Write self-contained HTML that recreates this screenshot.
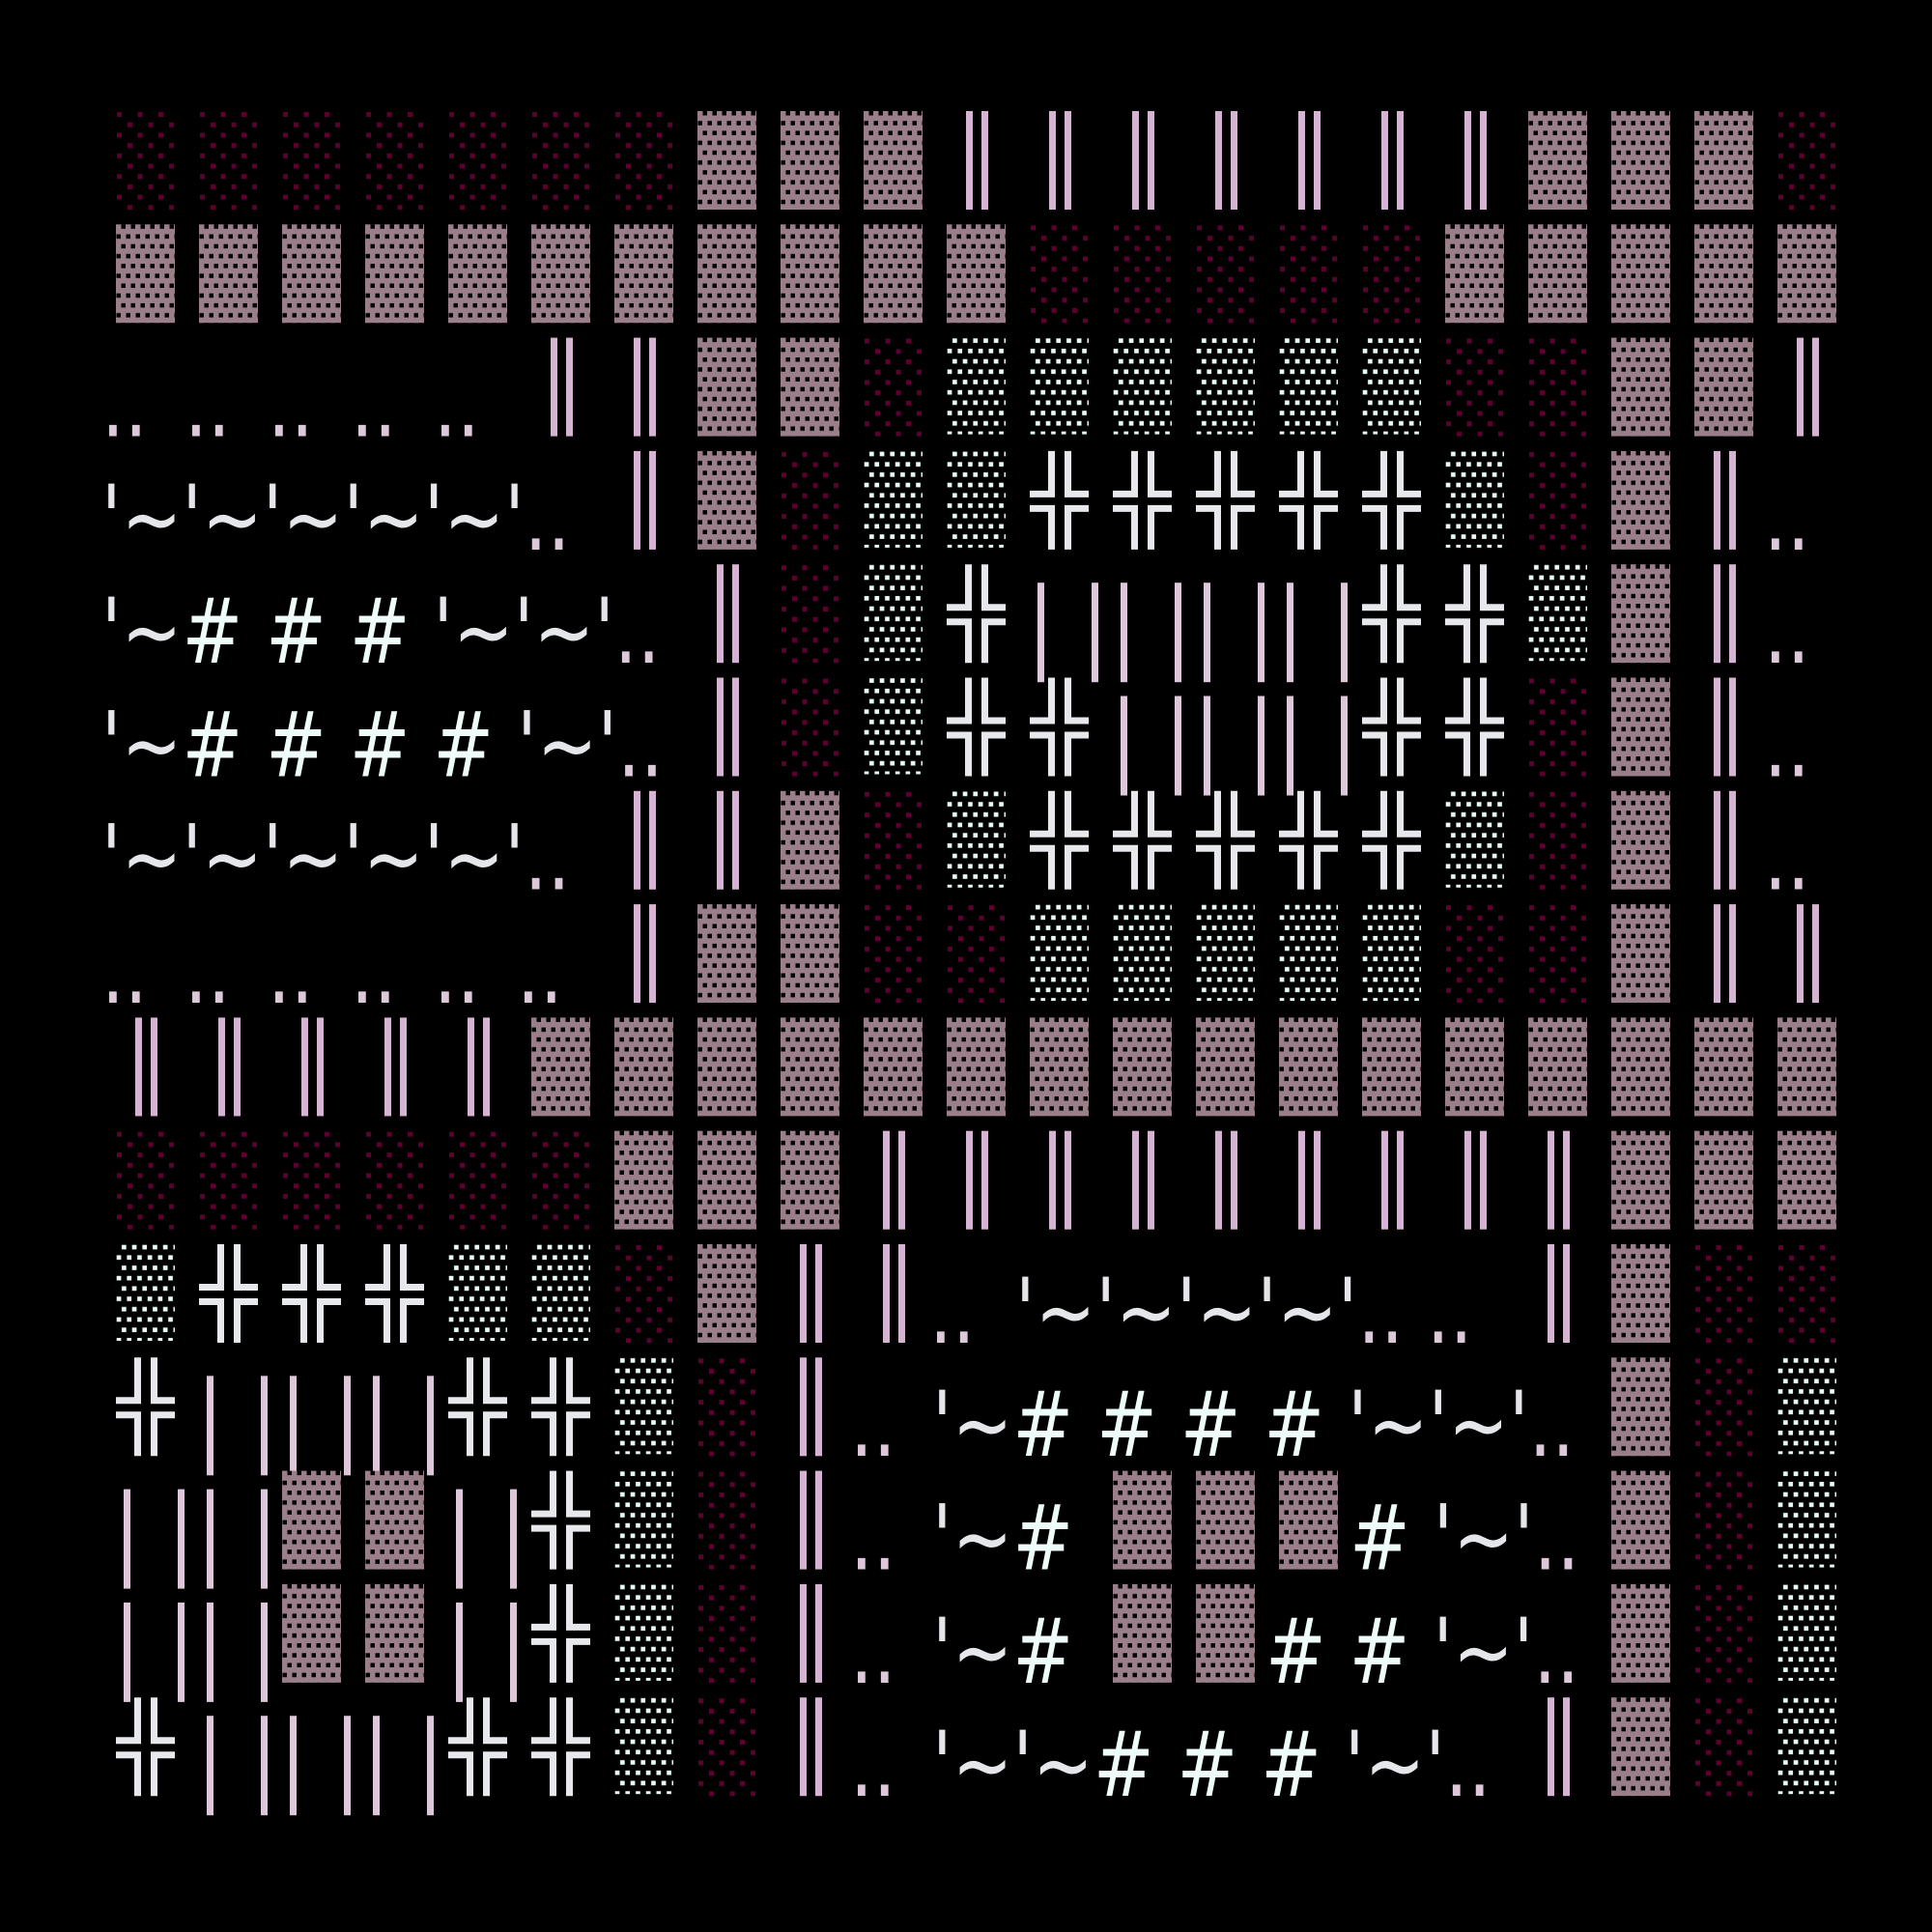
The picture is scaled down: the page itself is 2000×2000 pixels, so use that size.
<!DOCTYPE html>
<html><head><meta charset="utf-8"><style>
html,body{margin:0;padding:0;background:#000;}
svg{display:block;}
</style></head><body>
<svg width="2000" height="2000" viewBox="0 0 2000 2000" xmlns="http://www.w3.org/2000/svg">
<defs>
<pattern id="pp" width="10" height="20.4" patternUnits="userSpaceOnUse">
<rect width="10" height="20.4" fill="#9a7e8a"/>
<rect x="5.5" y="0" width="4.5" height="4.5" fill="#000"/>
<rect x="0.5" y="10.2" width="4.5" height="4.5" fill="#000"/>
</pattern>
<pattern id="pd" width="21.5" height="21.4" patternUnits="userSpaceOnUse">
<rect x="1" y="1" width="5" height="5" fill="#5c0030"/>
<rect x="12" y="11.7" width="5" height="5" fill="#5c0030"/>
</pattern>
<pattern id="pw" width="10.7" height="21.4" patternUnits="userSpaceOnUse">
<rect x="6" y="0.7" width="4.7" height="4.7" fill="#e8fcf6"/>
<rect x="0.7" y="11.4" width="4.7" height="4.7" fill="#e8fcf6"/>
</pattern>
<symbol id="P" overflow="visible"><rect width="61" height="102" fill="url(#pp)"/></symbol>
<symbol id="D" overflow="visible"><rect width="61" height="102" fill="url(#pd)"/></symbol>
<symbol id="W" overflow="visible"><rect width="61" height="100" fill="url(#pw)"/></symbol>
<symbol id="L" overflow="visible"><rect x="20" y="0" width="7" height="102" fill="#d4b4d0"/><rect x="36" y="0" width="7" height="102" fill="#d4b4d0"/></symbol>
<symbol id="S" overflow="visible"><rect x="8" y="19" width="7" height="103" fill="#dcc8d8"/><rect x="64" y="19" width="7" height="103" fill="#dcc8d8"/></symbol>
<symbol id="X" overflow="visible"><path fill="#e6e8ec" d="M19 0h7v48H0v-7h19z M36 0h7v41h18v7H36z M0 56h26v46h-7V63H0z M36 56h25v7H43v39h-7z"/></symbol>
</defs>
<g id="grid"></g>
<!-- Row 0 -->
<g transform="translate(120,115)">
<use href="#D" x="0"/><use href="#D" x="86"/><use href="#D" x="172"/><use href="#D" x="258"/><use href="#D" x="344"/><use href="#D" x="430"/><use href="#D" x="516"/><use href="#P" x="602"/><use href="#P" x="688"/><use href="#P" x="774"/><use href="#L" x="860"/><use href="#L" x="946"/><use href="#L" x="1032"/><use href="#L" x="1118"/><use href="#L" x="1204"/><use href="#L" x="1290"/><use href="#L" x="1376"/><use href="#P" x="1462"/><use href="#P" x="1548"/><use href="#P" x="1634"/><use href="#D" x="1720"/>
</g>
<!-- Row 1 -->
<g transform="translate(120,232.3)">
<use href="#P" x="0"/><use href="#P" x="86"/><use href="#P" x="172"/><use href="#P" x="258"/><use href="#P" x="344"/><use href="#P" x="430"/><use href="#P" x="516"/><use href="#P" x="602"/><use href="#P" x="688"/><use href="#P" x="774"/><use href="#P" x="860"/><use href="#D" x="946"/><use href="#D" x="1032"/><use href="#D" x="1118"/><use href="#D" x="1204"/><use href="#D" x="1290"/><use href="#P" x="1376"/><use href="#P" x="1462"/><use href="#P" x="1548"/><use href="#P" x="1634"/><use href="#P" x="1720"/>
</g>
<!-- Row 2 -->
<g transform="translate(120,349.6)">
<use href="#L" x="430"/><use href="#L" x="516"/><use href="#P" x="602"/><use href="#P" x="688"/><use href="#D" x="774"/><use href="#W" x="860"/><use href="#W" x="946"/><use href="#W" x="1032"/><use href="#W" x="1118"/><use href="#W" x="1204"/><use href="#W" x="1290"/><use href="#D" x="1376"/><use href="#D" x="1462"/><use href="#P" x="1548"/><use href="#P" x="1634"/><use href="#L" x="1720"/>
</g>
<!-- Row 3 -->
<g transform="translate(120,466.9)">
<use href="#L" x="516"/><use href="#P" x="602"/><use href="#D" x="688"/><use href="#W" x="774"/><use href="#W" x="860"/><use href="#X" x="946"/><use href="#X" x="1032"/><use href="#X" x="1118"/><use href="#X" x="1204"/><use href="#X" x="1290"/><use href="#W" x="1376"/><use href="#D" x="1462"/><use href="#P" x="1548"/><use href="#L" x="1634"/>
</g>
<!-- Row 4 -->
<g transform="translate(120,584.2)">
<use href="#L" x="602"/><use href="#D" x="688"/><use href="#W" x="774"/><use href="#X" x="860"/><use href="#S" x="946"/><use href="#S" x="1032"/><use href="#S" x="1118"/><use href="#S" x="1204"/><use href="#X" x="1290"/><use href="#X" x="1376"/><use href="#W" x="1462"/><use href="#P" x="1548"/><use href="#L" x="1634"/>
</g>
<!-- Row 5 -->
<g transform="translate(120,701.5)">
<use href="#L" x="602"/><use href="#D" x="688"/><use href="#W" x="774"/><use href="#X" x="860"/><use href="#X" x="946"/><use href="#S" x="1032"/><use href="#S" x="1118"/><use href="#S" x="1204"/><use href="#X" x="1290"/><use href="#X" x="1376"/><use href="#D" x="1462"/><use href="#P" x="1548"/><use href="#L" x="1634"/>
</g>
<!-- Row 6 -->
<g transform="translate(120,818.8)">
<use href="#L" x="516"/><use href="#L" x="602"/><use href="#P" x="688"/><use href="#D" x="774"/><use href="#W" x="860"/><use href="#X" x="946"/><use href="#X" x="1032"/><use href="#X" x="1118"/><use href="#X" x="1204"/><use href="#X" x="1290"/><use href="#W" x="1376"/><use href="#D" x="1462"/><use href="#P" x="1548"/><use href="#L" x="1634"/>
</g>
<!-- Row 7 -->
<g transform="translate(120,936.1)">
<use href="#L" x="516"/><use href="#P" x="602"/><use href="#P" x="688"/><use href="#D" x="774"/><use href="#D" x="860"/><use href="#W" x="946"/><use href="#W" x="1032"/><use href="#W" x="1118"/><use href="#W" x="1204"/><use href="#W" x="1290"/><use href="#D" x="1376"/><use href="#D" x="1462"/><use href="#P" x="1548"/><use href="#L" x="1634"/><use href="#L" x="1720"/>
</g>
<!-- Row 8 -->
<g transform="translate(120,1053.4)">
<use href="#L" x="0"/><use href="#L" x="86"/><use href="#L" x="172"/><use href="#L" x="258"/><use href="#L" x="344"/><use href="#P" x="430"/><use href="#P" x="516"/><use href="#P" x="602"/><use href="#P" x="688"/><use href="#P" x="774"/><use href="#P" x="860"/><use href="#P" x="946"/><use href="#P" x="1032"/><use href="#P" x="1118"/><use href="#P" x="1204"/><use href="#P" x="1290"/><use href="#P" x="1376"/><use href="#P" x="1462"/><use href="#P" x="1548"/><use href="#P" x="1634"/><use href="#P" x="1720"/>
</g>
<!-- Row 9 -->
<g transform="translate(120,1170.7)">
<use href="#D" x="0"/><use href="#D" x="86"/><use href="#D" x="172"/><use href="#D" x="258"/><use href="#D" x="344"/><use href="#D" x="430"/><use href="#P" x="516"/><use href="#P" x="602"/><use href="#P" x="688"/><use href="#L" x="774"/><use href="#L" x="860"/><use href="#L" x="946"/><use href="#L" x="1032"/><use href="#L" x="1118"/><use href="#L" x="1204"/><use href="#L" x="1290"/><use href="#L" x="1376"/><use href="#L" x="1462"/><use href="#P" x="1548"/><use href="#P" x="1634"/><use href="#P" x="1720"/>
</g>
<!-- Row 10 -->
<g transform="translate(120,1288)">
<use href="#W" x="0"/><use href="#X" x="86"/><use href="#X" x="172"/><use href="#X" x="258"/><use href="#W" x="344"/><use href="#W" x="430"/><use href="#D" x="516"/><use href="#P" x="602"/><use href="#L" x="688"/><use href="#L" x="774"/><use href="#L" x="1462"/><use href="#P" x="1548"/><use href="#D" x="1634"/><use href="#D" x="1720"/>
</g>
<!-- Row 11 -->
<g transform="translate(120,1405.3)">
<use href="#X" x="0"/><use href="#S" x="86"/><use href="#S" x="172"/><use href="#S" x="258"/><use href="#X" x="344"/><use href="#X" x="430"/><use href="#W" x="516"/><use href="#D" x="602"/><use href="#L" x="688"/><use href="#P" x="1548"/><use href="#D" x="1634"/><use href="#W" x="1720"/>
</g>
<!-- Row 12 -->
<g transform="translate(120,1522.6)">
<use href="#S" x="0"/><use href="#S" x="86"/><use href="#P" x="172"/><use href="#P" x="258"/><use href="#S" x="344"/><use href="#X" x="430"/><use href="#W" x="516"/><use href="#D" x="602"/><use href="#L" x="688"/><use href="#P" x="1032"/><use href="#P" x="1118"/><use href="#P" x="1204"/><use href="#P" x="1548"/><use href="#D" x="1634"/><use href="#W" x="1720"/>
</g>
<!-- Row 13 -->
<g transform="translate(120,1639.9)">
<use href="#S" x="0"/><use href="#S" x="86"/><use href="#P" x="172"/><use href="#P" x="258"/><use href="#S" x="344"/><use href="#X" x="430"/><use href="#W" x="516"/><use href="#D" x="602"/><use href="#L" x="688"/><use href="#P" x="1032"/><use href="#P" x="1118"/><use href="#P" x="1548"/><use href="#D" x="1634"/><use href="#W" x="1720"/>
</g>
<!-- Row 14 -->
<g transform="translate(120,1757.2)">
<use href="#X" x="0"/><use href="#S" x="86"/><use href="#S" x="172"/><use href="#S" x="258"/><use href="#X" x="344"/><use href="#X" x="430"/><use href="#W" x="516"/><use href="#D" x="602"/><use href="#L" x="688"/><use href="#L" x="1462"/><use href="#P" x="1548"/><use href="#D" x="1634"/><use href="#W" x="1720"/>
</g>

<!-- Text rows (y divided by 1.25 due to vertical stretch) -->
<g transform="scale(1,1.25)" font-family="DejaVu Sans, sans-serif" font-size="75" fill="#e4e6ea">
<!-- row 2 -->
<g fill="#dcc8d8">
<text x="105" y="361.3">..</text><text x="191" y="361.3">..</text><text x="277" y="361.3">..</text><text x="363" y="361.3">..</text><text x="449" y="361.3">..</text>
</g>
<!-- row 3 -->
<text x="105" y="455.1">'~'~'~'~'~'<tspan fill="#dcc8d8">..</tspan></text>
<!-- row 4 -->
<text x="105" y="548.9">'~<tspan fill="#eefcfa"># # # </tspan>'~'~'<tspan fill="#dcc8d8">..</tspan></text>
<!-- row 5 -->
<text x="105" y="642.8">'~<tspan fill="#eefcfa"># # # # </tspan>'~'<tspan fill="#dcc8d8">..</tspan></text>
<!-- row 6 -->
<text x="105" y="736.6">'~'~'~'~'~'<tspan fill="#dcc8d8">..</tspan></text>
<!-- row 7 -->
<g fill="#dcc8d8">
<text x="105" y="830.5">..</text><text x="191" y="830.5">..</text><text x="277" y="830.5">..</text><text x="363" y="830.5">..</text><text x="449" y="830.5">..</text><text x="535" y="830.5">..</text>
</g>
<!-- right column dots rows 3-6 -->
<g fill="#dcc8d8">
<text x="1826" y="455.1">..</text><text x="1826" y="548.9">..</text><text x="1826" y="642.8">..</text><text x="1826" y="736.6">..</text>
</g>
<!-- row 10 -->
<text x="962" y="1112" fill="#dcc8d8">..</text>
<text x="1051" y="1112">'~'~'~'~'<tspan fill="#dcc8d8">.. ..</tspan></text>
<!-- row 11 -->
<text x="880" y="1205.8" fill="#dcc8d8">..</text>
<text x="965" y="1205.8">'~<tspan fill="#eefcfa"># # # # </tspan>'~'~'<tspan fill="#dcc8d8">..</tspan></text>
<!-- row 12 -->
<text x="880" y="1299.7" fill="#dcc8d8">..</text>
<text x="965" y="1299.7">'~<tspan fill="#eefcfa">#</tspan></text>
<text x="1397" y="1299.7"><tspan fill="#eefcfa"># </tspan>'~'<tspan fill="#dcc8d8">..</tspan></text>
<!-- row 13 -->
<text x="880" y="1393.5" fill="#dcc8d8">..</text>
<text x="965" y="1393.5">'~<tspan fill="#eefcfa">#</tspan></text>
<text x="1310" y="1393.5"><tspan fill="#eefcfa"># # </tspan>'~'<tspan fill="#dcc8d8">..</tspan></text>
<!-- row 14 -->
<text x="880" y="1487.4" fill="#dcc8d8">..</text>
<text x="965" y="1487.4">'~'~<tspan fill="#eefcfa"># # # </tspan>'~'<tspan fill="#dcc8d8">..</tspan></text>
</g>
</svg>
</body></html>
